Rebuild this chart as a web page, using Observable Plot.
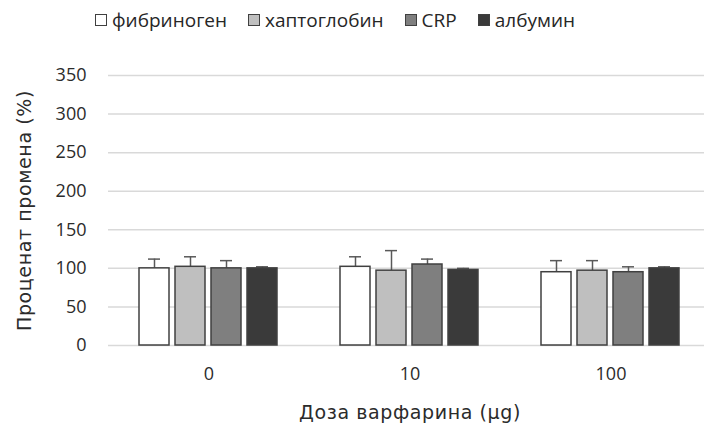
<!DOCTYPE html>
<html><head><meta charset="utf-8">
<script src="https://cdn.jsdelivr.net/npm/d3@7"></script>
<script src="https://cdn.jsdelivr.net/npm/@observablehq/plot@0.6"></script>
<style>
body{margin:0;background:#fff;font-family:"Open Sans",sans-serif;}
#legend{height:40px;display:flex;align-items:center;padding-left:95px;font-size:19px;color:#262626;box-sizing:border-box;}
.item{display:flex;align-items:center;margin-right:21px}
.sw{width:10px;height:10px;border:1.5px solid #404040;margin-right:5px}
</style></head><body>
<div id="legend"></div><div id="chart"></div>
<script>
const doses = ["0", "10", "100"];
const series = ["фибриноген", "хаптоглобин", "CRP", "албумин"];
const colors = ["#ffffff", "#bfbfbf", "#7f7f7f", "#3a3a3a"];
const fibrinogen = [100, 102, 95];
const fibrinogenSD = [12, 13, 15];
const haptoglobin = [102, 97, 97];
const haptoglobinSD = [13, 26, 13];
const crp = [100, 105, 95];
const crpSD = [10, 7, 7];
const albumin = [100, 98, 100];
const albuminSD = [2, 2, 2];
const yTicks = [0, 50, 100, 150, 200, 250, 300, 350];

const means = [fibrinogen, haptoglobin, crp, albumin];
const sds = [fibrinogenSD, haptoglobinSD, crpSD, albuminSD];
const data = [];
doses.forEach((d, i) => series.forEach((s, j) => {
  data.push({dose: d, series: s, mean: means[j][i], top: means[j][i] + sds[j][i]});
}));

const legend = document.getElementById("legend");
series.forEach((s, j) => {
  const it = document.createElement("div"); it.className = "item";
  const sw = document.createElement("div"); sw.className = "sw"; sw.style.background = colors[j];
  const t = document.createElement("span"); t.textContent = s;
  it.appendChild(sw); it.appendChild(t); legend.appendChild(it);
});

const chart = Plot.plot({
  width: 704, height: 388,
  marginLeft: 107, marginRight: -8, marginTop: 35, marginBottom: 83,
  style: {fontFamily: "Open Sans", fontSize: "18px", color: "#2b2b2b", background: "#fff"},
  fx: {domain: doses, padding: 0, axis: "bottom", tickSize: 0, tickPadding: 22,
       label: "Доза варфарина (μg)", labelAnchor: "center", labelArrow: "none", labelOffset: 73},
  x: {domain: series, paddingInner: 0.155, paddingOuter: 0.825, axis: null},
  y: {domain: [0, 350], ticks: yTicks, tickSize: 0, tickPadding: 22,
      label: "Проценат промена (%)", labelAnchor: "center", labelArrow: "none", labelOffset: 91},
  color: {domain: series, range: colors},
  marks: [
    Plot.gridY(yTicks, {stroke: "#d9d9d9", strokeOpacity: 1, strokeWidth: 1.5}),
    Plot.ruleX(data, {fx: "dose", x: "series", y1: "mean", y2: "top", stroke: "#595959", strokeWidth: 1.5}),
    Plot.tickY(data, {fx: "dose", x: "series", y: "top", stroke: "#595959", strokeWidth: 1.5, insetLeft: 9, insetRight: 9}),
    Plot.barY(data, {fx: "dose", x: "series", y: "mean", fill: "series", stroke: "#404040", strokeWidth: 1.5})
  ]
});
chart.querySelectorAll('g[aria-label$="axis label"] text').forEach(t => {
  t.style.fontFamily = "DejaVu Sans";
  t.style.fontSize = "19px";
  t.style.letterSpacing = "0.6px";
});
document.getElementById("chart").appendChild(chart);
</script>
</body></html>
